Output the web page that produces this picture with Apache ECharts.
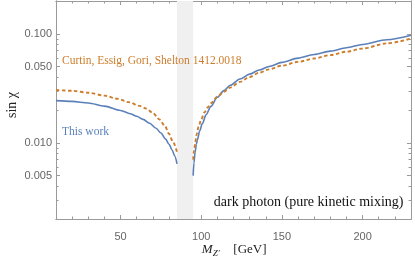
<!DOCTYPE html>
<html><head><meta charset="utf-8">
<script src="https://cdn.jsdelivr.net/npm/echarts@6/dist/echarts.min.js"></script>
<style>html,body{margin:0;padding:0;background:#fff}#c{width:415px;height:261px}</style>
</head><body><div id="c"></div>
<script>
// data: [M_Z' (GeV), sin chi]
const blueLeft = [[10,0.0244],[20,0.0240],[30,0.0232],[40,0.0217],[50,0.0198],[56,0.0185],[60,0.0175],[64,0.0164],[68,0.0151],[72,0.0136],[75,0.0123],[78,0.0108],[80,0.0097],[82,0.0086],[83.5,0.0076],[85,0.0064]];
const blueRight = [[95,0.0050],[95.5,0.0066],[96.2,0.0082],[97,0.0097],[97.6,0.0106],[99,0.0128],[100.7,0.0150],[103,0.0181],[106,0.0216],[110,0.0262],[114,0.0301],[118,0.0337],[124,0.0385],[130,0.0427],[136,0.0466],[142,0.0502],[150,0.0547],[160,0.0598],[170,0.0645],[180,0.0694],[190,0.0745],[200,0.0799],[215,0.0883],[230,0.0970]];
const orangeLeft = [[10,0.0305],[20,0.0300],[30,0.0288],[40,0.0271],[48,0.0254],[55,0.0236],[62,0.0218],[66,0.0206],[70,0.0188],[74,0.0164],[77.6,0.0142],[80,0.0121],[82.5,0.0102],[85,0.0082]];
const orangeRight = [[95,0.0070],[95.6,0.0085],[96.3,0.0101],[97.2,0.0120],[98.4,0.0141],[100,0.0164],[102,0.0190],[104,0.0211],[106,0.0231],[110,0.0265],[114,0.0294],[118,0.0322],[124,0.0362],[130,0.0402],[136,0.0440],[142,0.0472],[150,0.0510],[160,0.0553],[170,0.0594],[180,0.0638],[190,0.0685],[200,0.0734],[215,0.0817],[230,0.0905]];
const zBand = [85, 95];
const xMajorTicks = [50, 100, 150, 200];
const yMajorTicks = [0.005, 0.01, 0.05, 0.1];
const yTickLabels = ['0.005', '0.010', '0.050', '0.100'];
const yMinorTicks = [0.002,0.003,0.004,0.005,0.006,0.007,0.008,0.009,0.01,0.02,0.03,0.04,0.05,0.06,0.07,0.08,0.09,0.1,0.2];
const xRange = [10, 230];
const yRange = [0.002, 0.2];

const L = Math.log10;
const toLog = arr => arr.map(p => [p[0], L(p[1])]);
const axisColor = '#9a9a9a';
const labelStyle = {color: '#666', fontFamily: 'Liberation Sans', fontSize: 11};

function xAx(pos, major, showLabel) {
  return {
    type: 'value', position: pos, min: xRange[0], max: xRange[1],
    interval: major ? undefined : 10,
    axisLine: {show: true, lineStyle: {color: axisColor, width: 1}},
    axisTick: major ? {show: true, inside: true, length: 4, customValues: xMajorTicks, lineStyle: {color: axisColor}}
                    : {show: true, inside: true, length: 2.5, lineStyle: {color: axisColor}},
    axisLabel: showLabel ? Object.assign({show: true, margin: 12, customValues: xMajorTicks}, labelStyle) : {show: false},
    splitLine: {show: false}
  };
}
function yAx(pos, major, showLabel) {
  return {
    type: 'value', position: pos, min: L(yRange[0]), max: L(yRange[1]),
    axisLine: {show: true, lineStyle: {color: axisColor, width: 1}},
    axisTick: {show: true, inside: true, length: major ? 4 : 2.5,
      customValues: (major ? yMajorTicks : yMinorTicks).map(L), lineStyle: {color: axisColor}},
    axisLabel: showLabel ? Object.assign({show: true, margin: 4,
      customValues: yMajorTicks.map(L),
      formatter: v => { const i = yMajorTicks.findIndex(t => Math.abs(L(t) - v) < 1e-6); return i >= 0 ? yTickLabels[i] : ''; }
    }, labelStyle) : {show: false},
    splitLine: {show: false}
  };
}

const chart = echarts.init(document.getElementById('c'), null, {renderer: 'canvas'});
chart.setOption({
  animation: false,
  grid: {left: 56, right: 4, top: 1, bottom: 42, containLabel: false},
  xAxis: [xAx('bottom', true, true), xAx('bottom', false, false), xAx('top', true, false), xAx('top', false, false)],
  yAxis: [yAx('left', true, true), yAx('left', false, false), yAx('right', true, false), yAx('right', false, false)],
  series: [
    {type: 'line', data: toLog(blueLeft), showSymbol: false, smooth: 0.3, smoothMonotone: 'x',
     lineStyle: {color: '#5b80b9', width: 1.6}, z: 3,
     markArea: {silent: true, itemStyle: {color: '#f0f0f0'}, data: [[{xAxis: zBand[0]}, {xAxis: zBand[1]}]]}},
    {type: 'line', data: toLog(blueRight), showSymbol: false, smooth: 0.3, smoothMonotone: 'x',
     lineStyle: {color: '#5b80b9', width: 1.6}, z: 3},
    {type: 'line', data: toLog(orangeLeft), showSymbol: false, smooth: 0.3, smoothMonotone: 'x',
     lineStyle: {color: '#cd7d2c', width: 1.9, type: [3.5, 2.5]}, z: 4},
    {type: 'line', data: toLog(orangeRight), showSymbol: false, smooth: 0.3, smoothMonotone: 'x',
     lineStyle: {color: '#cd7d2c', width: 1.9, type: [3.5, 2.5]}, z: 4}
  ],
  graphic: [
    {type: 'text', x: 62, y: 61, z: 10, style: {text: 'Curtin, Essig, Gori, Shelton 1412.0018', fill: '#cd7d2c', font: '11.5px "Liberation Serif"', align: 'left', verticalAlign: 'middle'}},
    {type: 'text', x: 62, y: 131.5, z: 10, style: {text: 'This work', fill: '#5b80b9', font: '11.5px "Liberation Serif"', align: 'left', verticalAlign: 'middle'}},
    {type: 'text', x: 403.5, y: 202.5, z: 10, style: {text: 'dark photon (pure kinetic mixing)', fill: '#111', font: '14px "Liberation Serif"', align: 'right', verticalAlign: 'middle'}},
    {type: 'text', x: 201.7, y: 249.5, z: 10, style: {text: 'M', fill: '#222', font: 'italic 13px "Liberation Serif"', align: 'left', verticalAlign: 'middle'}},
    {type: 'text', x: 212.8, y: 253.5, z: 10, style: {text: 'Z′', fill: '#222', font: 'italic 9px "Liberation Serif"', align: 'left', verticalAlign: 'middle'}},
    {type: 'text', x: 233.3, y: 249.5, z: 10, style: {text: '[GeV]', fill: '#222', font: '13px "Liberation Serif"', align: 'left', verticalAlign: 'middle'}},
    {type: 'text', x: 12, y: 105, rotation: Math.PI / 2, z: 10, style: {text: 'sin χ', fill: '#222', font: '14px "Liberation Serif"', align: 'center', verticalAlign: 'middle'}}
  ]
});
</script></body></html>
